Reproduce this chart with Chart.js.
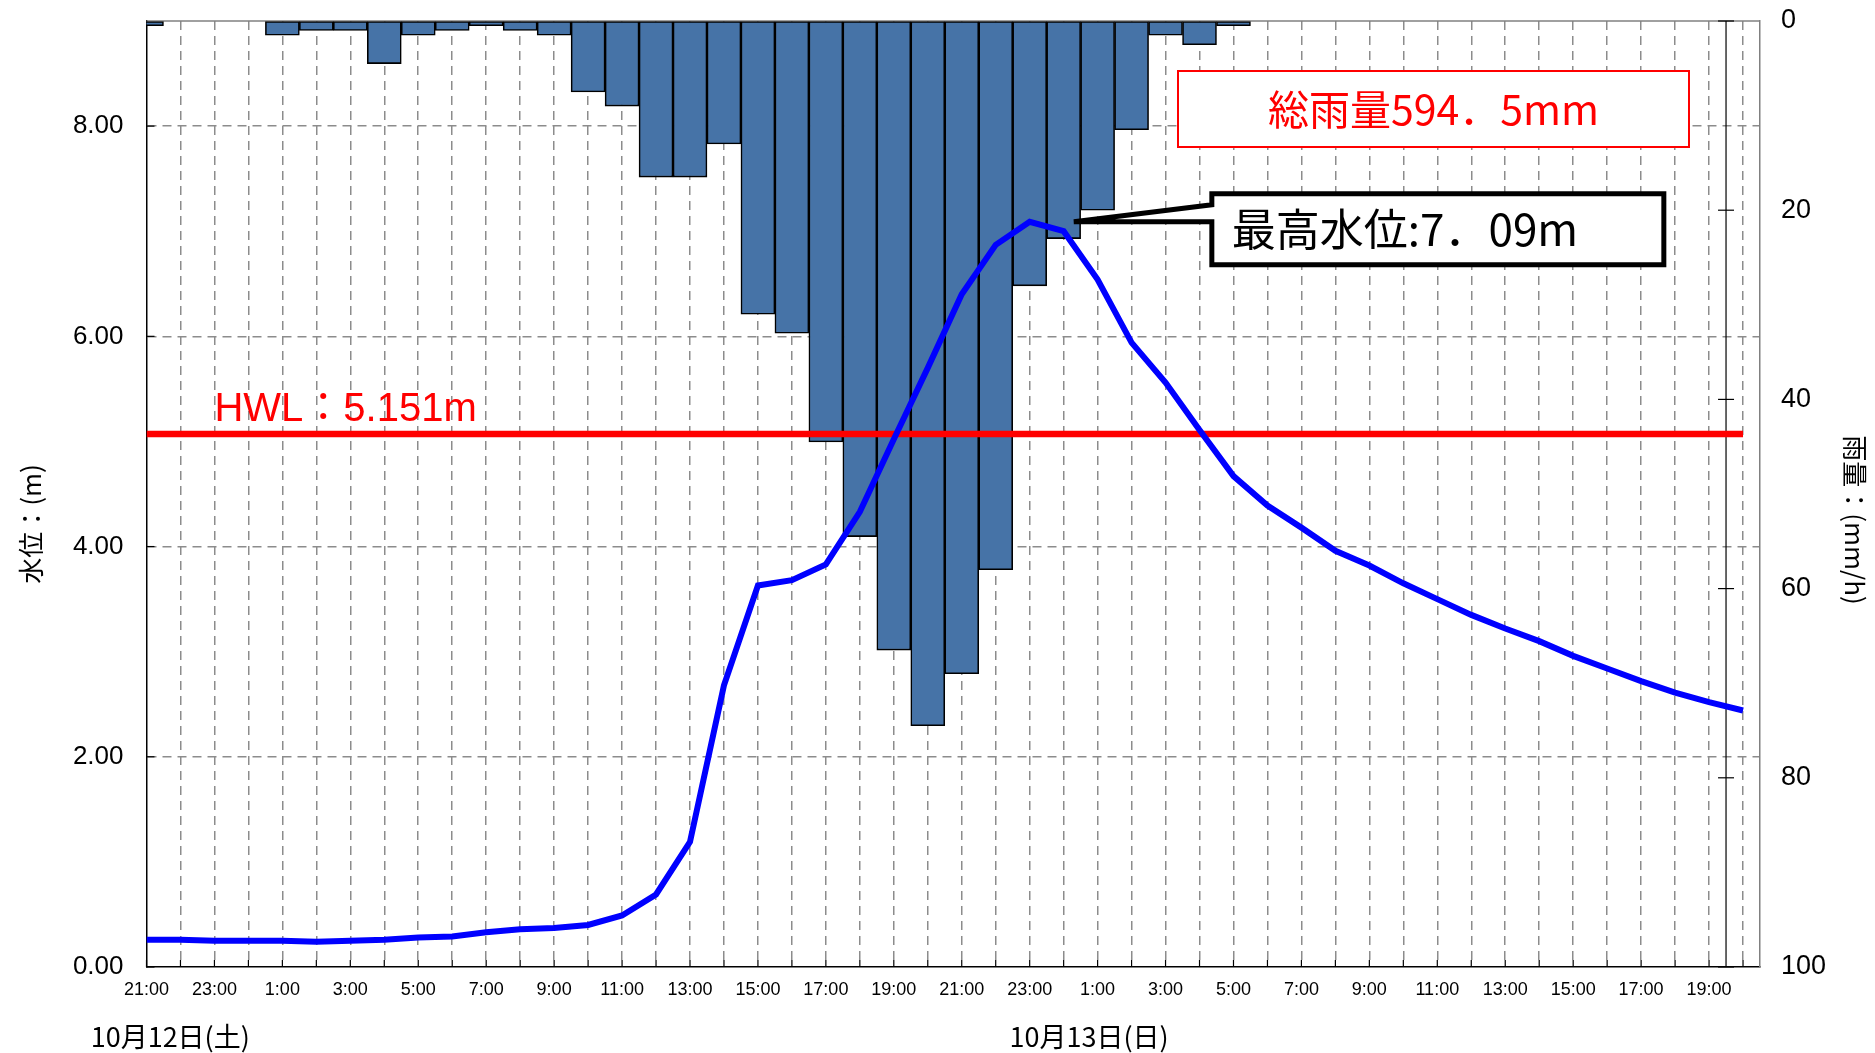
<!DOCTYPE html>
<html>
<head>
<meta charset="utf-8">
<script src="https://cdn.jsdelivr.net/npm/chart.js@4.4.0/dist/chart.umd.min.js"></script>
<style>
  html, body { margin: 0; padding: 0; background: #fff; }
  #wrap { width: 1875px; height: 1053px; }
</style>
</head>
<body>
<div id="wrap"><canvas id="chart" width="1875" height="1053"></canvas></div>
<script>
// hourly axis, 10/11 21:00 .. 10/13 20:00
const timeLabels = [
  '21:00', '22:00', '23:00', '0:00', '1:00', '2:00', '3:00', '4:00', '5:00', '6:00', '7:00', '8:00',
  '9:00', '10:00', '11:00', '12:00', '13:00', '14:00', '15:00', '16:00', '17:00', '18:00', '19:00', '20:00',
  '21:00', '22:00', '23:00', '0:00', '1:00', '2:00', '3:00', '4:00', '5:00', '6:00', '7:00', '8:00',
  '9:00', '10:00', '11:00', '12:00', '13:00', '14:00', '15:00', '16:00', '17:00', '18:00', '19:00', '20:00'
];

// hourly rainfall (mm/h)
const rainfall = [
  0.5, 0, 0, 0, 1.5, 1.0, 1.0, 4.5, 1.5, 1.0, 0.5, 1.0,
  1.5, 7.5, 9.0, 16.5, 16.5, 13.0, 31.0, 33.0, 44.5, 54.5, 66.5, 74.5,
  69.0, 58.0, 28.0, 23.0, 20.0, 11.5, 1.5, 2.5, 0.5, 0, 0, 0,
  0, 0, 0, 0, 0, 0, 0, 0, 0, 0, 0, 0
];

// water level (m)
const waterLevel = [
  0.26, 0.26, 0.25, 0.25, 0.25, 0.24, 0.25, 0.26, 0.28, 0.29, 0.33, 0.36,
  0.37, 0.40, 0.49, 0.69, 1.19, 2.68, 3.63, 3.68, 3.83, 4.33, 5.02, 5.70,
  6.40, 6.87, 7.09, 7.00, 6.54, 5.94, 5.56, 5.11, 4.67, 4.39, 4.18, 3.96,
  3.82, 3.65, 3.50, 3.35, 3.22, 3.10, 2.96, 2.84, 2.72, 2.61, 2.52, 2.44
];

const hwlLevel = 5.07; // where the HWL line sits in the picture
const hwlText = 'HWL：5.151m';
const totalRainText = '総雨量594．5mm';
const peakText = '最高水位:7．09m';
const dateLabels = ['10月12日(土)', '10月13日(日)'];
const dateLabelHours = [0.7, 27.75];

const GRID = '#8c8c8c';
const JP = '"Noto Sans CJK JP", "Noto Sans", sans-serif';
const LAT = '"Liberation Sans", Arial, sans-serif';

function line(ctx, x1, y1, x2, y2) {
    ctx.beginPath();
    ctx.moveTo(x1, y1);
    ctx.lineTo(x2, y2);
    ctx.stroke();
}

// fixed axis box, without the extra room chart.js keeps for edge labels
function fixWidth(w) {
    return s => {
        s.width = w;
        s.paddingTop = 0;
        s.paddingBottom = 0;
    };
}

const decorations = {
    id: 'decorations',
    beforeDatasetsDraw(chart) {
        const { ctx, chartArea: a, scales: { x, y, rain } } = chart;
        ctx.save();
        // top of the frame
        ctx.strokeStyle = '#808080';
        ctx.lineWidth = 1.5;
        line(ctx, a.left, a.top, a.right, a.top);

        // small inward ticks
        ctx.strokeStyle = '#000';
        ctx.lineWidth = 1.2;
        x.ticks.forEach(t => {
            const px = x.getPixelForValue(t.value);
            line(ctx, px, a.bottom, px, a.bottom - 7);
        });
        y.ticks.forEach(t => {
            const py = y.getPixelForValue(t.value);
            line(ctx, a.left, py, a.left + 8, py);
        });

        // inner rainfall axis line
        const rx = x.getPixelForValue(46.5);
        line(ctx, rx, a.top, rx, a.bottom);
        rain.ticks.forEach(t => {
            const py = rain.getPixelForValue(t.value);
            line(ctx, rx - 8, py, rx + 8, py);
        });
        ctx.restore();
    },
    afterDraw(chart) {
        const { ctx, chartArea: a, scales: { x, y } } = chart;
        ctx.save();

        // HWL label
        ctx.fillStyle = '#ff0000';
        ctx.font = '40px "Liberation Sans", "Noto Sans CJK JP", sans-serif';
        ctx.textAlign = 'left';
        ctx.textBaseline = 'alphabetic';
        ctx.fillText(hwlText, x.getPixelForValue(2), y.getPixelForValue(hwlLevel) - 13);

        // total rainfall box
        const bx = a.left + 1031.5, by = a.top + 50, bw = 511, bh = 76;
        ctx.fillStyle = '#fff';
        ctx.fillRect(bx, by, bw, bh);
        ctx.strokeStyle = '#ff0000';
        ctx.lineWidth = 2;
        ctx.strokeRect(bx, by, bw, bh);
        ctx.fillStyle = '#ff0000';
        ctx.font = '41px ' + JP;
        ctx.textAlign = 'center';
        ctx.textBaseline = 'middle';
        ctx.fillText(totalRainText, bx + bw / 2, by + bh / 2);

        // peak callout
        const peakIdx = waterLevel.indexOf(Math.max(...waterLevel));
        const tx = x.getPixelForValue(peakIdx + 1.3);
        const ty = y.getPixelForValue(waterLevel[peakIdx]);
        const bl = tx + 138, br = tx + 590, bt = ty - 28, bb = ty + 43;
        ctx.beginPath();
        ctx.moveTo(bl, bt);
        ctx.lineTo(br, bt);
        ctx.lineTo(br, bb);
        ctx.lineTo(bl, bb);
        ctx.lineTo(bl, ty);
        ctx.lineTo(tx, ty);
        ctx.lineTo(bl, ty - 17);
        ctx.closePath();
        ctx.fillStyle = '#fff';
        ctx.fill();
        ctx.strokeStyle = '#000';
        ctx.lineWidth = 5;
        ctx.lineJoin = 'miter';
        ctx.stroke();
        ctx.fillStyle = '#000';
        ctx.font = '44px ' + JP;
        ctx.textAlign = 'left';
        ctx.fillText(peakText, bl + 20, ty + 8);

        // date labels under the time axis
        ctx.font = '27px ' + JP;
        ctx.textAlign = 'center';
        dateLabels.forEach((d, i) => {
            ctx.fillText(d, x.getPixelForValue(dateLabelHours[i]), 1037);
        });

        // axis titles
        const cy = (a.top + a.bottom) / 2;
        ctx.font = '26px ' + JP;
        ctx.save();
        ctx.translate(31, cy + 30);
        ctx.rotate(-Math.PI / 2);
        ctx.fillText('水位：(m)', 0, 0);
        ctx.restore();
        ctx.save();
        ctx.translate(1855, cy + 26);
        ctx.rotate(Math.PI / 2);
        ctx.fillText('雨量：(mm/h)', 0, 0);
        ctx.restore();

        ctx.restore();
    }
};

const hideAtZero = c => (c.tick && c.tick.value === 0 ? 'rgba(0,0,0,0)' : GRID);

new Chart(document.getElementById('chart'), {
    type: 'bar',
    data: {
        datasets: [
            {
                type: 'line',
                label: '水位',
                data: waterLevel.map((v, i) => ({ x: i, y: v })),
                yAxisID: 'y',
                borderColor: '#0000ff',
                borderWidth: 6,
                pointRadius: 0,
                tension: 0,
                order: 0
            },
            {
                type: 'line',
                label: 'HWL',
                data: [{ x: 0, y: hwlLevel }, { x: timeLabels.length - 1, y: hwlLevel }],
                yAxisID: 'y',
                borderColor: '#ff0000',
                borderWidth: 6.5,
                pointRadius: 0,
                order: 1
            },
            {
                type: 'bar',
                label: '雨量',
                data: rainfall.map((v, i) => ({ x: i, y: v > 0 ? v : null })),
                yAxisID: 'rain',
                backgroundColor: '#4673a7',
                borderColor: '#000',
                borderWidth: 1.6,
                borderSkipped: false,
                barPercentage: 1,
                categoryPercentage: 1,
                clip: 0,
                order: 2
            }
        ]
    },
    options: {
        responsive: false,
        animation: false,
        layout: { padding: { top: 21 } },
        plugins: { legend: { display: false }, tooltip: { enabled: false } },
        scales: {
            x: {
                type: 'linear',
                min: 0,
                max: 47.5,
                offset: false,
                afterFit: s => { s.height = 86; },
                ticks: {
                    stepSize: 1,
                    includeBounds: false,
                    autoSkip: false,
                    maxRotation: 0,
                    padding: 12,
                    color: '#000',
                    font: { family: LAT, size: 18 },
                    callback: v => (v % 2 === 0 && v <= 46 ? timeLabels[v] : '')
                },
                grid: { offset: false, color: hideAtZero, lineWidth: 1.5, drawTicks: false },
                border: { color: '#000', width: 1.5, dash: [9, 6] }
            },
            y: {
                position: 'left',
                min: 0,
                max: 9,
                afterFit: fixWidth(146.5),
                ticks: {
                    stepSize: 2,
                    includeBounds: false,
                    padding: 23,
                    color: '#000',
                    font: { family: LAT, size: 26 },
                    callback: v => v.toFixed(2)
                },
                grid: { color: hideAtZero, lineWidth: 1.5, drawTicks: false },
                border: { color: '#000', width: 1.5, dash: [9, 6] }
            },
            rain: {
                position: 'right',
                reverse: true,
                min: 0,
                max: 100,
                afterFit: fixWidth(115),
                ticks: {
                    stepSize: 20,
                    padding: 21,
                    color: '#000',
                    font: { family: LAT, size: 27 }
                },
                grid: { drawOnChartArea: false, drawTicks: false },
                border: { color: '#808080', width: 1.5 }
            }
        }
    },
    plugins: [decorations]
});
</script>
</body>
</html>
